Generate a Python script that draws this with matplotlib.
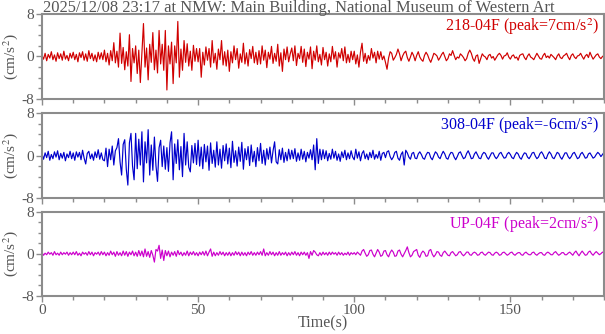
import numpy as np
import matplotlib
matplotlib.use("Agg")
import matplotlib.pyplot as plt
from matplotlib.ticker import MultipleLocator

DT = 0.5

title = "2025/12/08 23:17 at NMW: Main Building, National Museum of Western Art"
names = ["218-04F", "308-04F", "UP-04F"]
peaks = [7, -6, 2]
colors = ["#d00000", "#0000cc", "#cc00cc"]

# 218-04F acceleration (cm/s^2), one row = 10 s
acc_218 = [
    0.2, -0.5, 0.6, -0.8, 0.4, -0.3, 0.9, -0.6, 0.3, -0.9, 0.7, -0.4, 0.5, -0.7, 1.0, -0.5, 0.2, -0.8, 0.6, -0.3,
    0.8, -0.6, 0.4, -1.0, 0.7, -0.2, 0.9, -0.7, 0.5, -0.9, 1.1, -0.4, 0.6, -0.8, 0.3, -1.0, 0.8, -0.5, 0.7, -0.6,
    1.2, -1.0, 0.6, -1.6, 1.1, -0.8, 2.6, -1.2, 1.0, -2.0, 4.4, -1.3, 1.7, -2.5, 0.9, -1.8, 4.1, -4.7, 1.5, -1.2,
    2.0, -3.2, 1.2, -4.9, 0.8, 6.2, -2.0, 1.6, -4.4, 2.3, -1.1, 4.5, -2.5, 1.2, -3.1, 4.9, -1.4, 2.3, -2.6, 4.9,
    -6.3, 2.0, -1.4, 2.7, -5.1, 2.0, -1.2, 6.6, -3.9, 1.4, -2.6, 3.0, -1.1, 2.4, -1.8, 1.0, -2.6, 2.1, -0.9, 1.5,
    -1.0, 1.5, -3.9, 0.8, -1.6, 1.8, -0.7, 1.5, -2.0, 3.0, -1.2, 0.6, -2.4, 1.4, -0.6, 3.0, -1.6, 0.9, -1.8, 1.2,
    -2.8, 0.9, -1.2, 2.0, -0.6, 1.5, -2.2, 0.5, -1.1, 2.5, -1.4, 0.7, -1.8, 1.3, -0.4, 1.9, -1.2, 0.8, -1.5, 1.1,
    -1.4, 2.0, -0.7, 1.2, -2.1, 0.8, -0.5, 1.9, -1.3, 0.6, -0.9, 2.3, -1.8, 0.7, -2.8, 1.4, -0.6, 1.8, -1.0, 0.5,
    1.6, -0.8, 2.0, -1.7, 0.6, -0.4, 1.9, -1.1, 1.4, -1.9, 0.8, -0.5, 1.8, -2.3, 1.0, -0.7, 2.0, -1.0, 0.4, -1.6,
    1.7, -0.6, 0.8, -1.8, 0.5, -1.0, 1.9, -0.5, 0.9, -2.0, 0.7, -0.3, 1.5, -0.8, 1.8, -1.2, 0.4, -1.1, 1.0, -0.6,
    1.0, -1.4, 0.3, -2.0, 0.8, 2.5, -0.9, 0.6, -1.3, 0.2, -0.7, 1.5, -0.3, 0.8, -1.2, 1.0, -0.5, 0.9, -0.6, 0.1,
    -1.1, -2.4, -0.3, 0.9, 0.6, -0.7, -0.2, 0.4, 1.4, 0.5, -0.8, 0.1, 0.7, 1.0, -0.2, -0.9, -0.1, 0.8, 0.2, -0.8,
    0.2, 0.9, -0.1, -0.6, -0.9, 0.2, 0.8, 0.3, -0.5, -1.1, -0.3, 0.6, 0.4, 0.1, -0.7, -0.2, 0.4, 0.8, 0.0, -0.8,
    -0.4, 0.5, 0.2, 1.1, 0.2, -0.6, -0.1, -0.3, 0.5, 0.2, -0.2, -0.8, -0.4, 0.6, 1.2, 0.6, -0.4, -0.9, 0.1, 0.3,
    -1.3, -0.4, 0.5, 0.1, -0.1, -0.6, 0.2, 0.4, -0.3, 0.0, -0.7, -0.2, 0.3, 0.6, 0.2, -0.5, 0.1, 0.2, 0.7, -0.1,
    -0.5, 0.1, 0.3, -0.3, -0.1, -0.7, 0.2, 0.4, 0.5, -0.2, -0.6, 0.1, 0.5, -0.1, -0.3, -0.6, 0.0, 0.6, 0.1, -0.4,
    -0.5, 0.2, 0.6, -0.2, 0.1, -0.3, 0.4, 0.1, -0.2, -0.6, 0.1, 0.5, -0.2, -0.4, 0.1, 0.3, 0.6, -0.1, -0.6, 0.2,
    0.5, -0.1, -0.4, 0.1, 0.2, 0.6, 0.0, -0.5, 0.1, 0.4, -0.2, 0.8, 0.1, -0.5, -0.1, 0.3, 0.5, -0.1, -0.4, 0.0,
    0.2,
]

# 308-04F acceleration (cm/s^2)
acc_308 = [
    0.3, -0.7, 0.5, -0.4, 0.8, -0.9, 0.2, -0.6, 0.7, -0.3, 0.9, -0.8, 0.4, -0.5, 0.6, -1.0, 0.3, -0.4, 0.8, -0.6,
    0.5, -0.9, 0.7, -0.3, 0.6, -0.8, 1.0, -0.5, -1.6, 0.4, 0.8, -0.6, 0.3, -0.9, 0.7, -0.4, 1.1, -0.7, 0.5, -0.8,
    -1.0, 1.4, -2.1, 1.2, -0.8, 1.8, -1.8, 0.9, 1.5, 3.2, -1.2, -3.7, 2.1, 3.0, -2.6, -5.6, 2.4, 4.2, -2.0, -4.6,
    4.2, -2.5, 3.1, -1.8, 4.5, -5.0, 2.6, -1.4, 4.9, -3.7, 2.0, -2.8, 3.5, -1.9, -4.9, 1.5, 2.9, -2.1, 1.8, -2.6,
    1.5, -3.0, 2.4, 4.5, -4.6, 2.2, -1.5, 3.0, -2.7, 1.7, -4.0, 4.2, -1.8, 2.6, -2.2, -3.1, 1.9, -1.4, 2.3, -1.7,
    2.9, -2.0, 1.6, -2.5, 2.1, -1.2, 1.8, -2.8, 2.4, -1.5, 1.0, -2.2, 2.6, -1.8, 1.2, -2.4, 1.9, -1.0, 2.2, -1.6,
    1.4, -2.3, 2.7, -1.3, 0.9, -2.0, 1.6, -1.1, 2.5, -2.6, 1.3, -0.8, 1.7, -1.9, 2.0, -1.2, 0.8, -2.1, 1.5, -1.0,
    2.3, -1.5, 1.0, -1.8, 1.3, -0.7, 1.6, -1.4, 0.9, 2.6, -1.2, -1.6, 1.1, -0.8, 1.4, -1.3, 0.6, -1.0, 1.2, -0.7,
    1.0, -0.6, 1.3, -1.1, 0.5, -0.9, 1.2, -0.7, 0.8, -1.2, 0.6, -0.5, 1.1, -0.8, 2.0, -2.7, 3.2, -1.5, 1.2, -0.8,
    1.1, -0.6, 0.9, -1.0, 0.4, -0.7, 1.2, -0.5, 0.8, -0.9, 0.3, -1.1, 0.7, -0.4, 1.0, -0.8, 0.5, -0.6, 0.9, -0.3,
    -0.8, 1.2, -0.5, 0.7, -1.0, 0.4, 0.9, -0.6, 0.3, -0.8, 0.6, -0.4, 1.0, -0.7, 0.2, -0.5, 0.8, -0.9, 0.4, 0.6,
    -0.4, 0.7, 0.9, -0.2, -0.8, -0.3, 0.6, 0.8, -0.5, -0.9, 0.2, 0.7, -1.8, 1.0, 0.5, -0.3, -0.7, 0.4, 0.6, -0.5,
    -0.6, 0.3, 0.7, 0.2, -0.5, -0.7, 0.1, 0.6, 0.5, -0.4, -0.8, 0.0, 0.7, 0.4, -0.3, -0.6, 0.2, 0.8, 0.3, -0.5,
    -0.7, 0.1, 0.6, 0.5, -0.3, -0.8, -0.2, 0.5, 0.7, 0.0, -0.6, -0.4, 0.4, 0.9, 0.2, -0.6, -0.5, 0.3, 0.7, 0.1,
    -0.5, -0.6, 0.2, 0.6, 0.4, -0.3, -0.7, -0.1, 0.5, 0.5, -0.2, -0.6, -0.2, 0.4, 0.6, 0.0, -0.5, -0.4, 0.3, 0.6,
    0.2, -0.4, -0.6, 0.1, 0.6, 0.3, -0.4, -0.7, 0.0, 0.5, 0.4, -0.3, -0.6, -0.1, 0.5, 0.6, -0.1, -0.6, -0.3, 0.4,
    0.7, 0.2, -0.5, -0.6, 0.2, 0.7, 0.3, -0.4, -0.6, 0.0, 0.6, 0.4, -0.3, -0.7, -0.1, 0.5, 0.5, -0.2, -0.6, -0.2,
    0.4, 0.6, 0.0, -0.6, -0.4, 0.3, 0.6, 0.1, -0.5, -0.4, 0.3, 0.5, 0.0, -0.5, -0.3, 0.2, 0.6, 0.3, -0.2, 0.2,
    0.6,
]

# UP-04F acceleration (cm/s^2)
acc_up = [
    0.2, -0.3, 0.1, -0.2, 0.3, -0.1, 0.2, -0.3, 0.4, -0.2, 0.1, -0.3, 0.3, -0.2, 0.2, -0.1, 0.3, -0.3, 0.2, -0.2,
    0.3, -0.2, 0.4, -0.3, 0.1, -0.4, 0.3, -0.1, 0.2, -0.3, 0.4, -0.2, 0.3, -0.4, 0.2, -0.1, 0.3, -0.3, 0.4, -0.2,
    0.3, -0.4, 0.2, -0.3, 0.5, -0.2, 0.3, -0.5, 0.4, -0.3, 0.2, -0.4, 0.5, -0.3, 0.4, -0.5, 0.3, -0.2, 0.5, -0.4,
    0.3, -0.5, 0.6, -0.4, 0.5, -0.6, 0.9, -0.5, 0.4, -0.7, 0.6, -0.3, -1.6, 0.8, 0.5, 1.6, -0.9, 0.7, -1.3, 0.6,
    -0.4, 0.5, -0.6, 0.3, -0.3, 0.4, -0.5, 0.6, -0.2, 0.3, -0.4, 0.2, -0.3, 0.5, -0.4, 0.3, -0.2, 0.4, -0.3, 0.2,
    -0.4, 0.3, -0.2, 0.4, -0.3, 0.5, -0.4, 0.3, 0.9, -0.5, 0.3, -0.4, 0.2, -0.3, 0.4, -0.2, 0.3, -0.4, 0.2, -0.3,
    0.3, -0.4, 0.2, -0.3, 0.4, -0.2, 0.3, -0.4, 0.3, -0.3, 0.2, -0.4, 0.3, -0.2, 0.4, -0.3, 0.2, -0.3, 0.3, -0.2,
    0.4, -0.3, 0.9, -0.4, 0.2, -0.3, 0.4, -0.2, 0.3, -0.4, 0.2, -0.3, 0.4, -0.3, 0.2, -0.2, 0.3, -0.4, 0.2, -0.3,
    0.3, -0.2, 0.4, -0.3, 0.2, -0.4, 0.3, -0.2, 0.3, -0.3, 0.2, -0.9, 0.4, -0.3, 0.6, 0.3, -0.2, -0.4, 0.2, -0.3,
    0.3, -0.2, 0.2, -0.3, 0.3, -0.2, 0.3, -0.1, 0.2, -0.3, 0.3, -0.2, 0.2, -0.3, 0.1, -0.2, 0.3, -0.3, 0.2, -0.1,
    0.2, -0.2, 0.3, 0.0, -0.3, 0.5, 0.8, 0.1, -0.5, -0.2, 0.6, 0.7, -0.1, -0.6, 0.1, 0.8, 0.3, -0.5, -0.3, 0.5,
    0.6, -0.2, -0.6, 0.2, 0.7, 0.3, -0.5, -0.4, 0.5, 0.7, -0.1, -0.6, 0.0, 0.6, 1.3, 0.2, -0.6, -0.3, 0.4, 0.6,
    0.8, -0.3, -0.7, 0.1, 0.5, 0.2, -0.5, -0.4, 0.6, 0.8, -0.1, -0.6, -0.2, 0.4, 0.3, -0.3, -0.5, 0.2, 0.5, 0.1,
    -0.3, -0.4, 0.2, 0.4, 0.0, -0.4, -0.2, 0.3, 0.4, -0.1, -0.4, -0.1, 0.3, 0.3, -0.2, -0.3, 0.1, 0.3, 0.1, -0.3,
    -0.2, 0.2, 0.3, -0.1, -0.3, 0.0, 0.3, 0.2, -0.2, -0.3, 0.1, 0.3, 0.1, -0.3, -0.2, 0.2, 0.3, 0.0, -0.3, -0.1,
    0.2, 0.3, -0.1, -0.3, 0.0, 0.2, 0.2, -0.2, -0.3, 0.1, 0.3, 0.0, -0.2, -0.2, 0.2, 0.3, -0.1, -0.3, 0.0, 0.2,
    0.2, -0.2, -0.3, 0.1, 0.3, 0.1, -0.2, -0.2, 0.2, 0.4, 0.0, -0.3, -0.1, 0.2, 0.2, -0.2, -0.2, 0.1, 0.3, 0.0,
    -0.3, 0.2, 0.5, 0.0, -0.4, 0.1, 0.5, 0.1, -0.3, -0.2, 0.3, 0.5, 0.0, -0.3, 0.1, 0.4, 0.1, -0.2, 0.0, 0.3,
    0.2,
]

traces = [acc_218, acc_308, acc_up]

plt.rcParams["font.family"] = ["Liberation Serif", "DejaVu Serif"]
plt.rcParams["mathtext.fontset"] = "stix"

GRAY = "#8c8c8c"
TXT = "#555555"

fig = plt.figure(figsize=(6.05, 3.34), dpi=100)
# axes boxes in figure fraction: [left, bottom, width, height]
boxes = [
    [0.0694, 0.7036, 0.929, 0.2545],
    [0.0694, 0.4080, 0.929, 0.2527],
    [0.0694, 0.1147, 0.929, 0.2515],
]

for i, (vals, name, pk, col) in enumerate(zip(traces, names, peaks, colors)):
    ax = fig.add_axes(boxes[i])
    y = np.asarray(vals, dtype=float)
    t = np.arange(len(y)) * DT
    ax.plot(t, y, color=col, lw=0.85)
    ax.set_xlim(0, 180)
    ax.set_ylim(-8, 8)
    ax.set_yticks([-8, 0, 8])
    ax.set_yticklabels(["-8", "0", "8"])
    ax.yaxis.set_minor_locator(MultipleLocator(2))
    ax.set_xticks([0, 50, 100, 150])
    ax.xaxis.set_minor_locator(MultipleLocator(10))
    ax.tick_params(which="both", direction="out", colors=GRAY, labelcolor=TXT,
                   labelsize=11, width=1)
    ax.tick_params(which="major", length=4, pad=2)
    ax.tick_params(which="minor", length=3)
    for s in ax.spines.values():
        s.set_color(GRAY)
        s.set_linewidth(1.5)
    ax.set_ylabel("(cm/s$^2$)", color=TXT, fontsize=11)
    ax.yaxis.set_label_coords(-0.039, 0.5)
    ax.text(0.992, 0.97, f"{name} (peak={pk}cm/s$^2$)", transform=ax.transAxes,
            ha="right", va="top", color=col, fontsize=11.5)
    if i < 2:
        ax.set_xticklabels([])
    else:
        ax.set_xlabel("Time(s)", color=TXT, fontsize=11.5, labelpad=-1)

fig.text(0.071, 0.999, title, ha="left", va="top", color=TXT, fontsize=11.9)

fig.savefig("out.png", dpi=100)
